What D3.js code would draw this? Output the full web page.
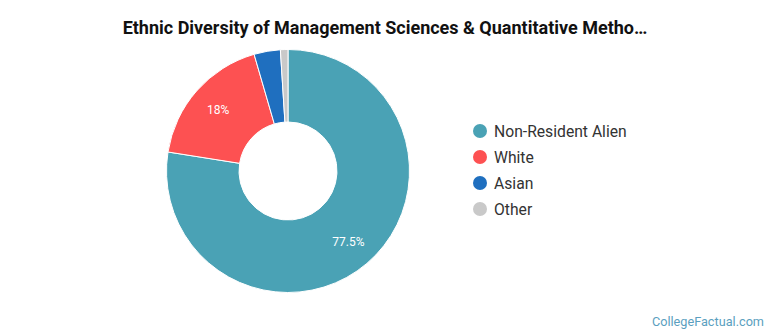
<!DOCTYPE html>
<html><head><meta charset="utf-8">
<script src="https://cdn.jsdelivr.net/npm/d3@7"></script>
<style>body{margin:0;background:#fff}svg{display:block;font-family:Roboto,"Noto Sans",sans-serif}</style>
</head><body><svg id="c" width="770" height="335"></svg>
<script>
const categories = ["Non-Resident Alien", "White", "Asian", "Other"];
const values = [77.5, 18, 3.5, 1.0];
const labels = ["77.5%", "18%", "", ""];
const colors = ["#4aa2b5", "#fd5152", "#1f6fbf", "#c9c9c9"];
const title = "Ethnic Diversity of Management Sciences & Quantitative Metho…";

const svg = d3.select("#c");
const cx = 288, cy = 171, rOuter = 121.5, rInner = 49;

svg.append("text").attr("x", 385).attr("y", 34).attr("text-anchor", "middle")
  .attr("font-size", 18).attr("font-weight", "bold").attr("fill", "#111").text(title);

const data = categories.map((c, i) => ({name: c, value: values[i], label: labels[i], color: colors[i]}));
const pie = d3.pie().sort(null).value(d => d.value);
const arc = d3.arc().innerRadius(rInner).outerRadius(rOuter);
const labelArc = d3.arc().innerRadius(93).outerRadius(93);
const g = svg.append("g").attr("transform", `translate(${cx},${cy})`);
const arcs = pie(data);
g.selectAll("path").data(arcs).join("path")
  .attr("d", arc).attr("fill", d => d.data.color).attr("stroke", "#fff").attr("stroke-width", 1);
g.selectAll("text").data(arcs.filter(d => d.data.label)).join("text")
  .attr("transform", d => `translate(${labelArc.centroid(d)})`)
  .attr("text-anchor", "middle").attr("dy", "0.35em")
  .attr("font-size", 12).attr("fill", "#fff").text(d => d.data.label);

const leg = svg.append("g").attr("transform", "translate(480,131)");
const rows = leg.selectAll("g").data(data).join("g").attr("transform", (d, i) => `translate(0,${i * 26})`);
rows.append("circle").attr("r", 7).attr("fill", d => d.color);
rows.append("text").attr("x", 14).attr("dy", "0.35em").attr("font-size", 15.7).attr("fill", "#333").text(d => d.name);

svg.append("text").attr("x", 764).attr("y", 326).attr("text-anchor", "end")
  .attr("font-size", 12.7).attr("fill", "#5b9fc0").text("CollegeFactual.com");
</script></body></html>
